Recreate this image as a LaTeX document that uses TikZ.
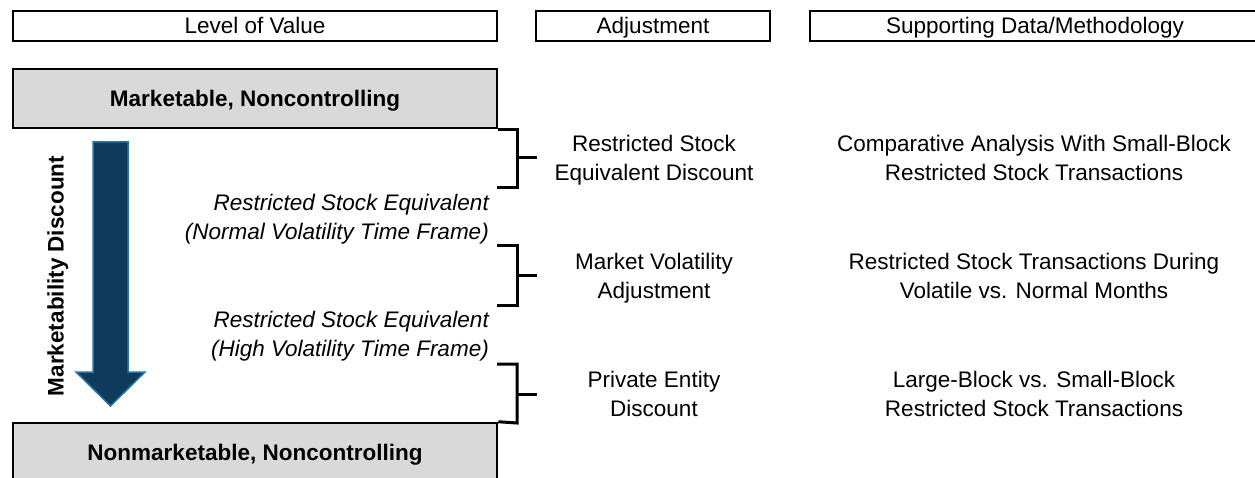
\documentclass[tikz,border=0pt]{standalone}
\usepackage{fontspec}
\setmainfont{Liberation Sans}
\definecolor{boxgray}{HTML}{D9D9D9}
\definecolor{arrowfill}{RGB}{14,58,92}
\definecolor{arrowedge}{RGB}{40,118,168}
\newcommand\lstrut{\rule[-4pt]{0pt}{24pt}}
\begin{document}
\begin{tikzpicture}[x=1pt,y=-1pt,
  txt/.style={font=\fontsize{22.5}{29}\selectfont, inner sep=0pt, align=center},
  itxt/.style={font=\fontsize{22.5}{29}\selectfont\itshape, inner sep=0pt, align=right, anchor=east},
  bftxt/.style={font=\fontsize{22.5}{29}\selectfont\bfseries},
  hdr/.style={draw=black, line width=2.8pt, inner sep=0pt, minimum height=30pt,
    font=\fontsize{22.5}{29}\selectfont},
  lvl/.style={draw=black, fill=boxgray, line width=2.5pt, inner sep=0pt,
    font=\fontsize{22.5}{29}\selectfont\bfseries},
  brk/.style={draw=black, line width=3pt}
]
\useasboundingbox (0,0) rectangle (1255,478);
\clip (0,0) rectangle (1255,478);

% header boxes
\node[hdr, minimum width=484pt] (hlevel) at (255,26) {\lstrut Level of Value};
\node[hdr, minimum width=234pt] (hadj) at (653,26) {\lstrut Adjustment};
\node[hdr, minimum width=450pt] (hsup) at (1035,26) {\lstrut Supporting Data/Methodology};

% level boxes
\node[lvl, minimum width=484pt, minimum height=59pt] (mkt) at (255,98.5) {\lstrut Marketable, Noncontrolling};
\node[lvl, minimum width=484pt, minimum height=60pt] (nonmkt) at (255,453) {\lstrut Nonmarketable, Noncontrolling};

% arrow
\filldraw[fill=arrowfill, draw=arrowedge, line width=1.5pt, line join=miter]
  (93,142) -- (128,142) -- (128,372) -- (145,372) -- (110.5,406) -- (76,372) -- (93,372) -- cycle;
\node[bftxt, inner sep=0pt, rotate=90] (mdisc) at (56,276) {\lstrut Marketability Discount};

% intermediate levels
\node[itxt] (rsenorm) at (489,217) {\lstrut Restricted Stock Equivalent\\\lstrut (Normal Volatility Time Frame)};
\node[itxt] (rsehigh) at (489,334.5) {\lstrut Restricted Stock Equivalent\\\lstrut (High Volatility Time Frame)};

% brackets
\coordinate (b1t) at (517,129.25);
\coordinate (b1b) at (517,188);
\coordinate (b1e) at (497,188);
\coordinate (b1m) at (517,158);
\coordinate (b1s) at (537,158);
\draw[brk] (mkt.south east) -- (b1t) -- (b1b) -- (b1e);
\draw[brk] (b1m) -- (b1s);

\coordinate (b2a) at (497,246);
\coordinate (b2t) at (517,246);
\coordinate (b2b) at (517,305);
\coordinate (b2e) at (497,305);
\coordinate (b2m) at (517,276);
\coordinate (b2s) at (537,276);
\draw[brk] (b2a) -- (b2t) -- (b2b) -- (b2e);
\draw[brk] (b2m) -- (b2s);

\coordinate (b3a) at (497,364);
\coordinate (b3t) at (517,364);
\coordinate (b3b) at (517,423);
\coordinate (b3m) at (517,394);
\coordinate (b3s) at (537,394);
\draw[brk] (b3a) -- (b3t) -- (b3b) -- (nonmkt.north east);
\draw[brk] (b3m) -- (b3s);

% adjustment column
\node[txt] (adj1) at (654,158) {\lstrut Restricted Stock\\\lstrut Equivalent Discount};
\node[txt] (adj2) at (654,276) {\lstrut Market Volatility\\\lstrut Adjustment};
\node[txt] (adj3) at (654,394) {\lstrut Private Entity\\\lstrut Discount};

% supporting column
\node[txt] (sup1) at (1034,158) {\lstrut Comparative Analysis With Small-Block\\\lstrut Restricted Stock Transactions};
\node[txt] (sup2) at (1034,276) {\lstrut Restricted Stock Transactions During\\\lstrut Volatile vs. Normal Months};
\node[txt] (sup3) at (1034,394) {\lstrut Large-Block vs. Small-Block\\\lstrut Restricted Stock Transactions};
\end{tikzpicture}
\end{document}
